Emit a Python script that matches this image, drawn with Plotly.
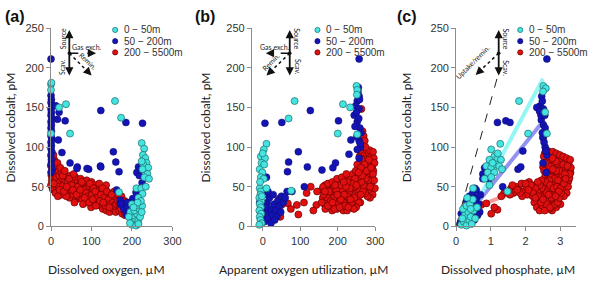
import plotly.graph_objects as go

W, H = 589, 287

# ---------------- data: panel (a) dissolved oxygen (uM) vs cobalt (pM)
a_red_o2 = [1,2,0,3,1,2,0,4,5,4, 8,7,9,10,12,8,14,13,15,11, 18,20,22,19,24,26,28,27,30,17,
            33,35,37,40,42,44,46,48,38,50, 53,55,57,60,62,64,66,68,70,58, 73,75,77,80,82,84,86,88,90,79,
            93,95,97,100,102,104,106,108,110,99, 113,115,117,120,122,124,126,128,130,119,
            133,135,137,139,141,143,145,147,149,136, 152,154,156,158,160,162,164,166,168,170,
            172,174,176,178,180,183,185,182,
            3,6,9,16,23,29,34,41,45,51,56,61,67,71,76,81,87,92,96,101,105,109,114,118,123,127,131,
            134,138,142,146,150,153,157,161,165,169,173,177,181,7,21,32,39,54,63,72,83,94,103,111,121,129,144]
a_red_co = [88,82,76,70,64,58,52,47,78,62, 84,72,66,58,52,46,76,62,48,42, 70,64,56,50,44,68,60,40,52,38,
            66,58,48,62,42,54,36,64,38,46, 58,40,50,62,34,46,56,38,52,30, 60,44,34,54,40,48,30,58,36,28,
            50,42,32,56,46,28,38,52,34,24, 44,30,50,38,26,46,34,22,42,54,
            30,46,20,38,26,42,18,34,24,52, 38,22,44,30,18,36,26,40,20,32,
            24,38,16,28,20,14,24,32,
            86,90,76,80,74,64,70,56,60,52,66,44,50,42,56,46,42,38,54,40,48,44,36,28,40,48,36,
            26,44,34,28,40,30,26,28,32,28,22,32,26,54,46,44,50,46,40,46,36,30,34,26,32,30,24]
a_blue_o2 = [0,0,1,0,2,0,1,0,2,0,1,0,1,0,2,0,1,0,2,0,1,0,3,0,
             12,20,16,35,123,185,226,18,27,47,65,93,122,154,160,168,212,216,64,89,123,218,223,
             210,177,181,198,171,190,195,200,205,188,215,212,186,202,208,225,220,162,172,180,188]
a_blue_co = [211,165,160,156,152,148,144,140,136,132,128,124,120,114,110,106,102,98,94,90,84,78,72,68,
             152,144,135,133,146,131,130,109,93,80,75,72,76,94,81,69,68,75,73,73,75,64,72,
             43,29,23,31,33,20,12,25,18,30,30,22,15,35,10,55,45,46,28,22,24]
a_cyan_o2 = [0,1,0,20,37,47,0,158,173,224,230,227,233,236,228,240,226,238,231,242,224,211,223,234,226,216,168,
             200,205,210,198,208,215,202,212,220,196,206,218,225,210,200,222,214,192,204,216,224,195]
a_cyan_co = [179,181,172,150,154,117,117,158,137,105,98,90,86,80,78,74,72,66,62,60,82,48,48,50,41,36,43,
             2,5,1,8,10,6,14,16,12,18,20,22,26,26,28,32,30,12,24,3,18,4]

# ---------------- data: panel (b) apparent oxygen utilization (uM) vs cobalt (pM)
b_red_aou = [262,268,275,282,288,270,278,285,292,265,272,280,288,295,260,268,276,284,292,258,
             266,274,282,290,255,263,271,279,287,252,
             160,165,170,175,178,182,185,188,192,195,198,200,203,206,209,212,215,218,221,224,
             227,230,233,236,239,242,245,248,251,254,257,260,200,190,210,220,235,245,225,180,
             170,158,166,238,215,195,205,228,
             45,50,91,95,117,128,143,145,169,47,67,263,269,272,266,30,40,75,110,135,
             258,264,271,277,283,290,296,298,294,297,299,293,286,279,273,267,261,256,249,243,
             237,231,226,219,213,207,201,196,189,183,177,172,167,163,157,161,174,186,198,211,
             223,240,248,252,259,285,274,281,286,275,269,263,254,246,238,232,226,217,208,199,
             191,181,174,166,244,250,234,228,222,216,205,193,186,265,277,289,294,283,271,262,255]
b_red_co = [92,95,90,88,84,86,82,78,75,80,76,72,68,70,72,68,64,62,60,64,
            58,56,54,52,56,50,48,46,44,48,
            36,28,42,24,50,34,20,44,28,38,22,54,32,46,26,40,20,50,34,44,
            28,56,38,24,48,32,58,42,28,36,46,30,44,50,58,62,62,50,20,40,
            30,46,52,40,30,30,36,50,
            35,27,27,15,42,50,27,44,50,12,29,148,114,108,120,18,20,22,30,20,
            88,84,93,96,92,90,86,80,66,58,48,40,36,38,42,44,40,30,24,22,
            30,44,38,26,46,52,28,46,36,26,44,36,22,40,30,50,54,56,60,62,
            66,66,70,78,96,96,100,58,50,60,52,56,62,60,54,48,56,40,34,40,
            22,32,26,44,36,52,34,24,50,56,24,52,30,64,70,74,94,84,78,74,68]
b_blue_aou = [6,51,127,202,95,69,66,119,158,187,194,10,235,230,257,111,65,78,257,
              257,252,248,257,244,252,259,257,261,252,254,250,256,262,246,258,251,260,255,
              -5,0,5,10,15,20,25,30,35,40,45,50,12,18,2,28,8,38,22,55,60,-3,32,48,14,-8]
b_blue_co = [130,131,146,133,94,81,69,75,71,74,80,62,109,91,86,50,44,44,211,
             164,158,152,148,140,132,124,108,100,97,170,144,136,118,126,160,113,104,175,
             8,12,6,18,10,22,14,28,20,32,26,38,30,36,40,40,24,12,4,30,36,20,8,18,44,30]
b_cyan_aou = [250,252,251,85,69,214,233,200,252,10,3,-5,6,-3,-8,-1,-5,3,-8,-5,10,76,
              -6,-9,-4,-8,-5,-9,-4,-8,-6,-3,-9,-2,-7,4,0]
b_cyan_co = [177,172,166,158,136,154,150,117,116,104,97,88,86,80,72,68,62,60,48,44,48,45,
             40,36,32,28,24,20,16,12,8,4,2,38,56,78,92]

# ---------------- data: panel (c) dissolved phosphate (uM) vs cobalt (pM)
c_red_p = [2.55,2.64,2.77,2.83,2.97,3.04,3.16,3.24,2.61,2.72,2.79,2.92,3.01,3.12,3.19,3.29,2.5,2.63,2.7,2.85,
           2.9,3.05,3.11,3.23,2.56,2.66,2.76,2.82,2.96,3.07,3.14,3.26,2.48,2.59,
           1.5,1.58,1.65,1.72,1.8,1.88,1.95,2.02,2.1,2.18,2.25,2.32,2.4,2.05,2.2,1.9,2.45,
           2.3,2.38,2.45,2.52,2.58,2.64,2.7,2.76,2.82,2.88,2.94,3.0,2.5,2.62,2.72,2.8,2.9,2.68,
           2.56,2.42,2.78,2.98,2.35,2.66,
           0.72,1.01,1.19,1.38,1.57,1.71,0.87,1.1,1.3,2.5,2.55,
           2.52,2.58,2.68,2.78,2.88,2.98,3.08,3.18,3.28,3.3,3.27,3.22,3.18,3.1,3.04,2.97,2.87,2.77,2.67,2.57,
           2.53,2.63,2.73,2.83,2.93,3.13,3.08,3.2,2.88,2.78,2.68,2.58,2.5,2.45,2.4,2.35,2.28,2.22,2.15,2.08,
           2.0,1.84,1.76,1.62,1.55,2.25,2.32,2.4,2.48,2.55,2.6,2.7,2.75,2.85,2.92,2.97,3.02,2.84,2.74,2.64,
           2.54,2.44,2.36,2.28,2.6,2.7,2.8,2.9,3.0,3.1,3.15,2.95,2.86,2.66,2.5]
c_red_co = [92,95,89,91,87,84,83,78,83,81,77,79,73,74,69,68,75,71,67,65,
            62,63,59,57,63,59,55,53,51,49,47,61,55,51,
            44,48,42,50,46,54,44,50,56,46,52,42,48,40,38,38,44,
            36,28,40,22,34,26,42,20,32,24,38,28,30,38,30,40,44,22,
            44,34,26,46,44,34,
            27,16,21,42,46,44,29,24,38,112,118,
            88,96,92,94,92,90,88,86,84,74,66,50,42,38,56,70,82,86,76,80,
            70,66,62,60,58,66,78,76,70,72,58,56,48,58,52,56,48,42,52,46,
            54,42,46,52,40,30,24,20,26,20,28,24,36,28,30,36,42,46,48,46,
            38,30,38,36,42,52,48,50,48,54,60,44,38,40,34]
c_blue_p = [2.46,2.42,2.32,2.51,1.19,1.43,1.55,2.45,2.51,2.56,1.92,1.78,1.86,0.82,0.77,0.77,2.56,2.61,
            2.59,1.34,0.54,2.61,2.48,2.44,2.5,2.53,2.58,2.48,2.55,2.4,2.5,0.95,
            0.12,0.2,0.28,0.35,0.4,0.45,0.5,0.55,0.6,0.65,0.7,0.3,0.38,0.48,0.25,0.58,0.42,0.68,
            0.15,0.52,0.62]
c_blue_co = [164,152,150,148,131,133,131,134,128,124,95,72,75,74,66,60,100,90,
             68,50,48,211,158,140,112,106,95,118,140,145,80,60,
             4,10,6,16,24,12,30,20,36,28,40,32,38,42,20,46,4,18,
             16,8,14]
c_cyan_p = [2.51,2.58,2.5,1.81,2.07,1.27,1.01,2.56,2.61,1.1,1.19,1.29,0.96,0.87,1.01,1.15,1.24,0.91,
            1.1,0.82,1.01,0.96,0.49,1.48,1.2,1.05,1.32,
            0.15,0.22,0.3,0.38,0.45,0.25,0.35,0.42,0.5,0.2,0.3,0.4,0.55,0.6,0.48,0.32,0.18,0.42]
c_cyan_co = [177,174,170,158,117,104,97,144,117,88,85,84,84,76,74,78,76,68,
             68,60,62,52,48,44,92,80,72,
             2,6,1,8,3,14,18,12,20,22,26,28,10,24,34,36,10,22]

# fitted / reference lines in panel (c)
ref_p, ref_co = [0.0, 1.2], [0.0, 190.0]
fit_cyan_p, fit_cyan_co = [0.35, 2.5], [10.0, 186.0]
fit_blue_p, fit_blue_co = [0.07, 2.42], [0.0, 128.0]
fit_red_p, fit_red_co = [0.65, 2.2], [26.0, 52.0]

legend_labels = ["0 \u2212 50m", "50 \u2212 200m", "200 \u2212 5500m"]

# ---------------- styles
RED = dict(color="#e01010", line=dict(color="#6e0000", width=0.7))
BLUE = dict(color="#1414b4", line=dict(color="#0a0a70", width=0.5))
CYAN = dict(color="#44e4e0", line=dict(color="#1d6b6b", width=0.7))
MS = 7

fig = go.Figure()

def add_scatter(x, y, style, xa, ya, name):
    fig.add_trace(go.Scatter(x=x, y=y, mode="markers", name=name, showlegend=False,
                             marker=dict(size=MS, **style), cliponaxis=False,
                             xaxis=xa, yaxis=ya))

def add_line(x, y, color, width, xa, ya, dash="solid"):
    fig.add_trace(go.Scatter(x=x, y=y, mode="lines", showlegend=False,
                             line=dict(color=color, width=width, dash=dash),
                             xaxis=xa, yaxis=ya, hoverinfo="skip"))

# panel a
add_scatter(a_red_o2, a_red_co, RED, "x", "y", legend_labels[2])
add_scatter(a_blue_o2, a_blue_co, BLUE, "x", "y", legend_labels[1])
add_scatter(a_cyan_o2, a_cyan_co, CYAN, "x", "y", legend_labels[0])
# panel b
add_scatter(b_red_aou, b_red_co, RED, "x2", "y2", legend_labels[2])
add_scatter(b_blue_aou, b_blue_co, BLUE, "x2", "y2", legend_labels[1])
add_scatter(b_cyan_aou, b_cyan_co, CYAN, "x2", "y2", legend_labels[0])
# panel c
add_line(fit_red_p, fit_red_co, "rgba(245,120,120,0.75)", 4, "x3", "y3")
add_line(fit_blue_p, fit_blue_co, "rgba(110,110,235,0.75)", 4, "x3", "y3")
add_line(fit_cyan_p, fit_cyan_co, "rgba(130,245,245,0.85)", 4, "x3", "y3")
add_line(ref_p, ref_co, "#222222", 1, "x3", "y3", dash="dash")
add_scatter(c_red_p, c_red_co, RED, "x3", "y3", legend_labels[2])
add_scatter(c_blue_p, c_blue_co, BLUE, "x3", "y3", legend_labels[1])
add_scatter(c_cyan_p, c_cyan_co, CYAN, "x3", "y3", legend_labels[0])

def px(x):
    return x / W

def py(y):
    return 1 - y / H

Y0, Y1 = 230, 23
axis_common = dict(showline=True, linecolor="#8c8c8c", linewidth=1, ticks="outside", ticklen=4,
                   tickcolor="#8c8c8c", showgrid=False, zeroline=False,
                   tickfont=dict(family="Liberation Sans, Arial", size=11, color="#333333"))

fig.update_layout(
    width=W, height=H, margin=dict(l=0, r=0, t=0, b=0),
    paper_bgcolor="white", plot_bgcolor="white", showlegend=False,
    xaxis=dict(domain=[px(49), px(173)], range=[0, 300], tickvals=[0, 100, 200, 300], anchor="y", **axis_common),
    yaxis=dict(domain=[py(Y0), py(Y1)], range=[0, 250], tickvals=[0, 50, 100, 150, 200, 250], anchor="x", **axis_common),
    xaxis2=dict(domain=[px(254), px(380)], range=[-29, 300], tickvals=[0, 100, 200, 300], anchor="y2", **axis_common),
    yaxis2=dict(domain=[py(Y0), py(Y1)], range=[0, 250], tickvals=[0, 50, 100, 150, 200, 250], anchor="x2", **axis_common),
    xaxis3=dict(domain=[px(462.5), px(585)], range=[0, 3.45], tickvals=[0, 1, 2, 3], anchor="y3", **axis_common),
    yaxis3=dict(domain=[py(Y0), py(Y1)], range=[0, 250], tickvals=[0, 50, 100, 150, 200, 250], anchor="x3", **axis_common),
)

ann = []
shapes = []
TF = "Lato, Carlito, Calibri, sans-serif"

def text(x, y, s, size=12, angle=0, xanchor="center", color="#222222", bold=False, family=TF):
    ann.append(dict(x=px(x), y=py(y), xref="paper", yref="paper", text=("<b>%s</b>" % s) if bold else s,
                    showarrow=False, font=dict(family=family, size=size, color=color),
                    textangle=angle, xanchor=xanchor, yanchor="middle"))

# axis titles
text(106, 275, "Dissolved oxygen, \u00b5M")
text(307, 275, "Apparent oxygen utilization, \u00b5M")
text(516, 275, "Dissolved phosphate, \u00b5M")
for xc in (8, 207, 412):
    text(xc, 127, "Dissolved cobalt, pM", angle=-90)

# panel labels
text(0.5, 11, "(a)", size=16, xanchor="left", bold=True, family="Liberation Sans, Arial", color="#111111")
text(206, 11, "(b)", size=16, bold=True, family="Liberation Sans, Arial", color="#111111")
text(412, 11, "(c)", size=16, bold=True, family="Liberation Sans, Arial", color="#111111")

# legends
for lx, tx in ((114.5, 121), (321, 327.5), (528, 534.5)):
    for i, (lab, st) in enumerate(zip(legend_labels, (CYAN, BLUE, RED))):
        yy = 25 + i * 11.7
        shapes.append(dict(type="circle", xref="paper", yref="paper", xsizemode="pixel", ysizemode="pixel",
                           xanchor=px(lx), yanchor=py(yy), x0=-2.6, x1=2.6, y0=-2.6, y1=2.6,
                           fillcolor=st["color"], line=dict(color=st["line"]["color"], width=0.7)))
        text(tx, yy, lab, size=10, xanchor="left", family="Liberation Sans, Arial", color="#333333")

def arrow_head(x, y, fromx, fromy):
    dx, dy = fromx - x, fromy - y
    n = (dx * dx + dy * dy) ** 0.5
    ann.append(dict(x=px(x), y=py(y), xref="paper", yref="paper", showarrow=True, arrowhead=2,
                    arrowsize=1.1, arrowwidth=1.5, arrowcolor="#111111", ax=dx / n * 5, ay=dy / n * 5, text=""))

def seg(x0, y0, x1, y1, dash, width=1.5):
    shapes.append(dict(type="line", xref="paper", yref="paper", x0=px(x0), y0=py(y0), x1=px(x1), y1=py(y1),
                       line=dict(color="#111111", width=width, dash=dash)))

def dot(x, y):
    shapes.append(dict(type="circle", xref="paper", yref="paper", xsizemode="pixel", ysizemode="pixel",
                       xanchor=px(x), yanchor=py(y), x0=-1.8, x1=1.8, y0=-1.8, y1=1.8,
                       fillcolor="#111111", line=dict(width=0)))

def vert_arrow(x, top, bot):
    seg(x, top + 4, x, bot - 4, "solid", width=1.8)
    arrow_head(x, top, x, top + 10)
    arrow_head(x, bot, x, bot - 10)

SF = 7
# panel a diagram
cx, cy = 67.7, 49.3
vert_arrow(cx, 25, 72.5)
dot(cx, cy)
seg(cx, cy, 91, cy, "dash"); arrow_head(95, cy, cx, cy)
seg(cx, cy, 87.5, 69.5, "dot"); arrow_head(90.5, 72.5, cx, cy)
text(61, 34, "Source", size=SF, angle=-90)
text(61, 64, "Scav.", size=SF, angle=-90)
text(86, 43, "Gas exch.", size=SF)
text(87, 57, "Remin.", size=SF, angle=45)

# panel b diagram
cx, cy = 292.7, 49.3
vert_arrow(cx, 25, 72.5)
dot(cx, cy)
seg(cx, cy, 272.5, cy, "dash"); arrow_head(268.3, cy, cx, cy)
seg(cx, cy, 272, 69.5, "dot"); arrow_head(269, 72.5, cx, cy)
text(300.5, 34, "Source", size=SF, angle=90)
text(300.5, 64, "Scav.", size=SF, angle=90)
text(277.5, 43, "Gas exch.", size=SF)
text(273, 58, "Remin.", size=SF, angle=-45)

# panel c diagram
cx, cy = 506, 49.3
vert_arrow(cx, 25, 72.5)
dot(cx, cy)
seg(cx, cy, 485.5, 69, "dot"); arrow_head(482.5, 72, cx, cy)
text(513.5, 34, "Source", size=SF, angle=90)
text(513.5, 65, "Scav.", size=SF, angle=90)
text(479, 58, "Uptake/remin.", size=SF, angle=-45)

fig.update_layout(annotations=ann, shapes=shapes)
fig.write_html("out.html")
